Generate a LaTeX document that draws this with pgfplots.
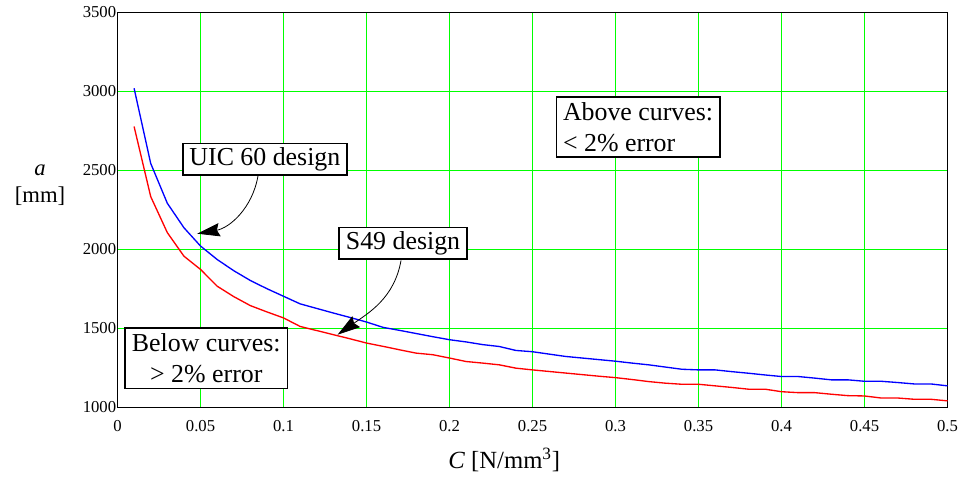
\documentclass[border=0pt]{standalone}
\usepackage{fontspec}
\setmainfont{Liberation Serif}
\usepackage{pgfplots}
\pgfplotsset{compat=1.18}
\usetikzlibrary{arrows.meta}
\definecolor{gridgreen}{RGB}{0,255,0}
\tikzset{
  boxnode/.style={draw=black, line width=1.2pt, fill=white, font=\fontsize{19.4}{23.5}\selectfont, inner xsep=5pt, inner ysep=3pt},
  arr/.style={black, line width=0.6pt, -{Stealth[length=17pt,width=10pt,inset=2pt]}},
}

\begin{document}
\begin{tikzpicture}
\begin{axis}[
  scale only axis, width=622.5pt, height=296.25pt,
  xmin=0, xmax=0.5, ymin=1000, ymax=3500,
  xtick={0,0.05,0.1,0.15,0.2,0.25,0.3,0.35,0.4,0.45,0.5},
  xticklabels={0,0.05,0.1,0.15,0.2,0.25,0.3,0.35,0.4,0.45,0.5},
  ytick={1000,1500,2000,2500,3000,3500},
  yticklabels={1000,1500,2000,2500,3000,3500},
  grid=major,
  every axis grid/.style={},
  grid style={draw=gridgreen, line width=1.3pt},
  major grid style={draw=gridgreen, line width=1.3pt},
  major tick length=0pt,
  axis line style={black, line width=1.2pt},
  tick label style={font=\fontsize{12.5}{14}\selectfont},
  xticklabel style={yshift=-6pt},
  yticklabel style={xshift=2.5pt},
  clip mode=individual,
]
\addplot[blue, line width=1pt] coordinates {
(0.01,3020) (0.02,2545) (0.03,2293) (0.04,2138) (0.05,2022) (0.06,1937) (0.07,1866) (0.08,1804) (0.09,1752) (0.10,1704)
(0.11,1656) (0.12,1627) (0.13,1598) (0.14,1570) (0.15,1541) (0.16,1507) (0.17,1488) (0.18,1468) (0.19,1448) (0.20,1429)
(0.21,1415) (0.22,1398) (0.23,1386) (0.24,1361) (0.25,1353) (0.26,1338) (0.27,1323) (0.28,1313) (0.29,1303) (0.30,1293)
(0.31,1281) (0.32,1270) (0.33,1256) (0.34,1242) (0.35,1238) (0.36,1238) (0.37,1227) (0.38,1217) (0.39,1206) (0.40,1196)
(0.41,1196) (0.42,1186) (0.43,1175) (0.44,1175) (0.45,1166) (0.46,1166) (0.47,1158) (0.48,1149) (0.49,1149) (0.50,1137)
};
\addplot[red, line width=1pt] coordinates {
(0.01,2778) (0.02,2335) (0.03,2107) (0.04,1958) (0.05,1874) (0.06,1768) (0.07,1702) (0.08,1645) (0.09,1605) (0.10,1567)
(0.11,1513) (0.12,1487) (0.13,1461) (0.14,1435) (0.15,1408) (0.16,1387) (0.17,1365) (0.18,1344) (0.19,1334) (0.20,1313)
(0.21,1291) (0.22,1281) (0.23,1270) (0.24,1249) (0.25,1238) (0.26,1228) (0.27,1218) (0.28,1208) (0.29,1198) (0.30,1189)
(0.31,1177) (0.32,1164) (0.33,1154) (0.34,1147) (0.35,1147) (0.36,1137) (0.37,1127) (0.38,1116) (0.39,1116) (0.40,1100)
(0.41,1094) (0.42,1094) (0.43,1084) (0.44,1075) (0.45,1073) (0.46,1060) (0.47,1060) (0.48,1052) (0.49,1052) (0.50,1042)
};
\draw[arr] (axis cs:0.0846,2464) to[out=-100,in=10] (axis cs:0.048,2100);
\draw[arr] (axis cs:0.1708,1931) to[out=-100,in=35] (axis cs:0.1326,1461);
\node[boxnode] at (axis cs:0.0888,2572) {UIC 60 design};
\node[boxnode] at (axis cs:0.1720,2039) {S49 design};
\node[boxnode, align=center, inner ysep=4pt] at (axis cs:0.0535,1311) {Below curves:\\ > 2\% error};
\node[boxnode, align=left, inner ysep=4pt] at (axis cs:0.3136,2776) {Above curves:\\ < 2\% error};
\end{axis}
\node[font=\fontsize{18.5}{20}\selectfont] at ([shift={(290pt,-39.4pt)}]current axis.south west) {\textit{C} [N/mm\textsuperscript{3}]};
\node[font=\fontsize{17}{20}\selectfont, align=center] at ([shift={(-58.1pt,166.9pt)}]current axis.south west) {\textit{a}\\ {[mm]}};
\pgfresetboundingbox
\path[use as bounding box] ([shift={(-88.125pt,-52.125pt)}]current axis.south west) rectangle ++(724.5pt,357.75pt);
\end{tikzpicture}
\end{document}
